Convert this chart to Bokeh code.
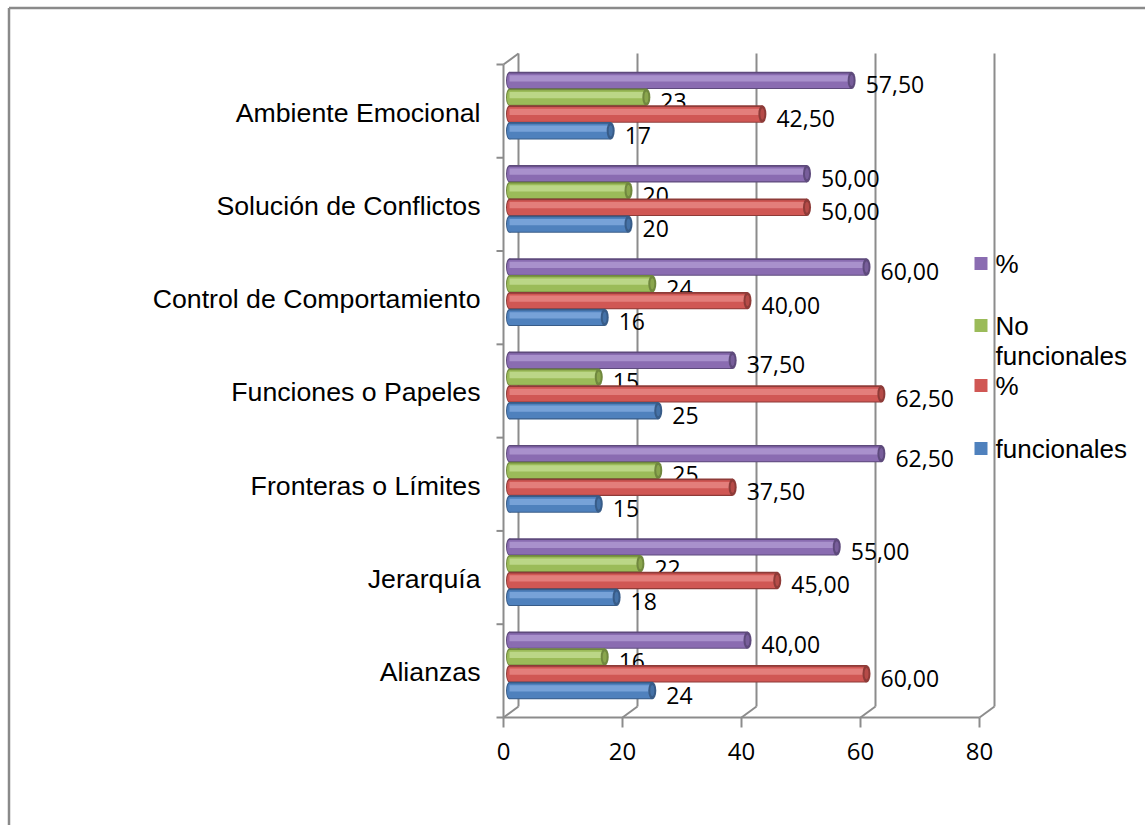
from bokeh.plotting import figure
from bokeh.models import ColumnDataSource, Range1d
from bokeh.core.properties import value
from bokeh.embed import file_html
from bokeh.resources import INLINE

# ---------------- data ----------------
categories = ["Alianzas", "Jerarquía", "Fronteras o Límites", "Funciones o Papeles",
              "Control de Comportamiento", "Solución de Conflictos", "Ambiente Emocional"]
funcionales = [24, 18, 15, 25, 16, 20, 17]
pct_funcionales = [60.00, 45.00, 37.50, 62.50, 40.00, 50.00, 42.50]
no_funcionales = [16, 22, 25, 15, 24, 20, 23]
pct_no_funcionales = [40.00, 55.00, 62.50, 37.50, 60.00, 50.00, 57.50]
x_ticks = [0, 20, 40, 60, 80]
legend_labels = ["%", "No funcionales", "%", "funcionales"]

# ---------------- layout (pixel geometry) ----------------
W, H = 1145, 825
X0, SX = 503.0, 5.95        # pixel of x=0 on the front axis, px per unit
YB, SY = 717.0, 93.29       # pixel of the bottom of the category axis, px per category


def px2x(px):
    return (px - X0) / SX


def py2y(py):
    return -0.5 + (YB - py) / SY


DX, DY = 15.0 / SX, 11.0 / SY      # depth offset of the back wall
BH = 16.8 / SY                     # bar slot
BT = 17.4 / SY                     # bar drawn thickness
OX, OY = 6.0 / SX, 5.5 / SY        # bar depth offset
AX_COL = "#8C8C8C"

p = figure(width=W, height=H, output_backend="svg", toolbar_location=None,
           x_axis_type=None, y_axis_type=None, min_border=0,
           x_range=Range1d(px2x(0), px2x(W)), y_range=Range1d(py2y(H), py2y(0)))
p.outline_line_color = None
p.background_fill_color = "white"
p.border_fill_color = "white"

# outer chart border
p.segment(x0=[px2x(8.5), px2x(8.5)], y0=[py2y(7.5), py2y(7.5)],
          x1=[px2x(W + 5), px2x(8.5)], y1=[py2y(7.5), py2y(H + 5)],
          line_color="#8A8A8A", line_width=2.5)

n = len(categories)
ymin, ymax = -0.5, n - 0.5

# back wall vertical gridlines
p.segment(x0=[t + DX for t in x_ticks], y0=[ymin + DY] * len(x_ticks),
          x1=[t + DX for t in x_ticks], y1=[ymax + DY] * len(x_ticks),
          line_color=AX_COL, line_width=2)
# floor diagonals
p.segment(x0=x_ticks, y0=[ymin] * len(x_ticks),
          x1=[t + DX for t in x_ticks], y1=[ymin + DY] * len(x_ticks),
          line_color=AX_COL, line_width=2)
# top-left diagonal
p.segment(x0=[0], y0=[ymax], x1=[DX], y1=[ymax + DY], line_color=AX_COL, line_width=2)
# front axes
p.segment(x0=[0, 0], y0=[ymin, ymin], x1=[0, x_ticks[-1]], y1=[ymax, ymin],
          line_color=AX_COL, line_width=2)
# left ticks
ky = [ymin + k for k in range(n + 1)]
p.segment(x0=[-7.0 / SX] * len(ky), y0=ky, x1=[0] * len(ky), y1=ky,
          line_color=AX_COL, line_width=2)
# bottom ticks
p.segment(x0=x_ticks, y0=[ymin] * len(x_ticks), x1=x_ticks,
          y1=[ymin - 10.0 / SY] * len(x_ticks), line_color=AX_COL, line_width=2)

# tick labels
p.text(x=x_ticks, y=[ymin] * len(x_ticks), text=[str(t) for t in x_ticks],
       text_font=value("Open Sans"), text_font_size="24px", text_color="black",
       text_align="center", text_baseline="middle", y_offset=34)

# category labels
p.text(x=[0] * n, y=list(range(n)), text=categories,
       text_font=value("Liberation Sans"), text_font_size="26.7px", text_color="black",
       text_align="right", text_baseline="middle", x_offset=-23, y_offset=1.5)

# ---------------- bars ----------------
series = [
    # values, dark, base, light, is_pct   (top to bottom inside a group)
    (pct_no_funcionales, "#5E4A7C", "#8A6CB1", "#A991CC", True),
    (no_funcionales, "#70883E", "#9BBB59", "#BBD687", False),
    (pct_funcionales, "#8E3B38", "#D05754", "#E37E7B", True),
    (funcionales, "#385C88", "#4F81BD", "#77A2D8", False),
]

for k, (vals, dark, base, light, is_pct) in enumerate(series):
    yc = [c + OY + (1.5 - k) * BH for c in range(n)]
    src = ColumnDataSource(dict(
        y=yc,
        y_body=[y - 0.02 * BT for y in yc],
        y_hi=[y + 0.12 * BT for y in yc],
        left=[OX] * n,
        right=[v + OX for v in vals],
        lab=[(f"{v:.2f}".replace(".", ",") if is_pct else str(int(v))) for v in vals],
    ))
    # outer (dark rim)
    p.hbar(y="y", left="left", right="right", height=BT, source=src,
           fill_color=dark, line_color=None)
    # left rounded cap
    p.ellipse(x="left", y="y", width=7, width_units="screen", height=BT,
              source=src, fill_color=dark, line_color=None)
    # body
    p.hbar(y="y_body", left="left", right="right", height=BT * 0.84, source=src,
           fill_color=base, line_color=None)
    p.ellipse(x="left", y="y_body", width=5, width_units="screen", height=BT * 0.84,
              source=src, fill_color=base, line_color=None)
    # highlight
    p.hbar(y="y_hi", left="left", right="right", height=BT * 0.36, source=src,
           fill_color=light, line_color=None)
    # right end cap
    p.ellipse(x="right", y="y", width=8, width_units="screen", height=BT,
              source=src, fill_color=dark, line_color=None)
    p.ellipse(x="right", y="y", width=4, width_units="screen", height=BT * 0.65,
              source=src, fill_color=base, line_color=None, fill_alpha=0.6)
    # data labels
    p.text(x="right", y="y", text="lab", source=src,
           text_font=value("Open Sans"), text_font_size="23px", text_color="black",
           text_align="left", text_baseline="middle", x_offset=14, y_offset=4.5)

# ---------------- legend ----------------
leg_sq_y = [263, 325, 385, 448]
leg_cols = [s[2] for s in series]
p.scatter(x=[px2x(980.5)] * 4, y=[py2y(v) for v in leg_sq_y], marker="square",
          size=13, fill_color=leg_cols, line_color=None)
leg_text = []
leg_ty = []
for lab, yy in zip(legend_labels, leg_sq_y):
    words = lab.split(" ")
    for i, w in enumerate(words):
        leg_text.append(w)
        leg_ty.append(py2y(yy + 30 * i))
p.text(x=[px2x(995)] * len(leg_text), y=leg_ty, text=leg_text,
       text_font=value("Liberation Sans"), text_font_size="26px", text_color="black",
       text_align="left", text_baseline="middle")

open("out.html", "w").write(file_html(p, INLINE))
